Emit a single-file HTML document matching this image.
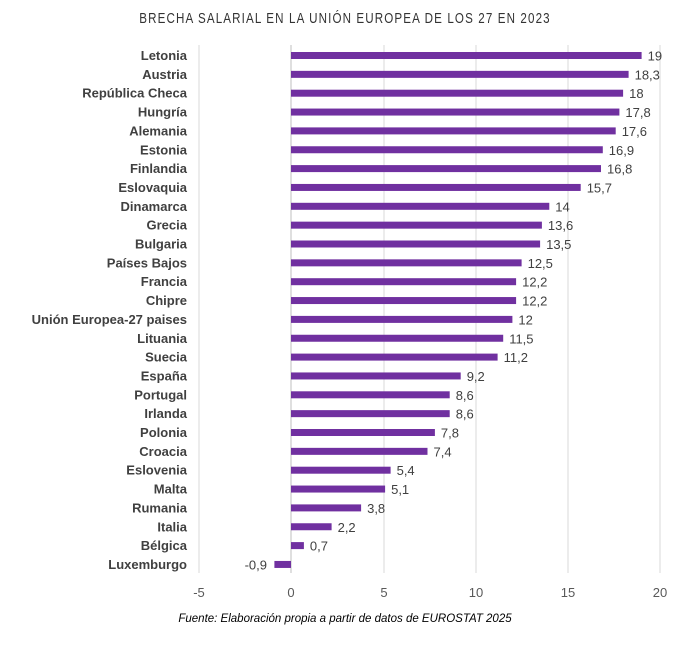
<!DOCTYPE html>
<html><head><meta charset="utf-8"><style>body{margin:0;background:#fff}</style></head><body>
<svg width="690" height="652" xmlns="http://www.w3.org/2000/svg" font-family="Liberation Sans, sans-serif">
<rect width="690" height="652" fill="#fff"/>
<text x="345" y="23" text-anchor="middle" font-size="14.5" fill="#333" letter-spacing="1.4" transform="translate(345,0) scale(0.8,1) translate(-345,0)">BRECHA SALARIAL EN LA UNIÓN EUROPEA DE LOS 27 EN 2023</text>
<g stroke="#d9d9d9" stroke-width="1">
<line x1="199" y1="45" x2="199" y2="573"/><line x1="384" y1="45" x2="384" y2="573"/><line x1="476" y1="45" x2="476" y2="573"/><line x1="568" y1="45" x2="568" y2="573"/><line x1="660" y1="45" x2="660" y2="573"/>
</g>
<line x1="291" y1="45" x2="291" y2="573" stroke="#bfbfbf"/>
<g font-size="13" fill="#404040">
<g transform="translate(0,55.5)"><text x="187" y="4.5" text-anchor="end" font-weight="bold">Letonia</text><rect x="291" y="-3.5" width="350.6" height="7" fill="#7030A0"/><text x="647.6" y="5">19</text></g>
<g transform="translate(0,74.35)"><text x="187" y="4.5" text-anchor="end" font-weight="bold">Austria</text><rect x="291" y="-3.5" width="337.6" height="7" fill="#7030A0"/><text x="634.6" y="5">18,3</text></g>
<g transform="translate(0,93.2)"><text x="187" y="4.5" text-anchor="end" font-weight="bold">República Checa</text><rect x="291" y="-3.5" width="332.1" height="7" fill="#7030A0"/><text x="629.1" y="5">18</text></g>
<g transform="translate(0,112.05)"><text x="187" y="4.5" text-anchor="end" font-weight="bold">Hungría</text><rect x="291" y="-3.5" width="328.4" height="7" fill="#7030A0"/><text x="625.4" y="5">17,8</text></g>
<g transform="translate(0,130.9)"><text x="187" y="4.5" text-anchor="end" font-weight="bold">Alemania</text><rect x="291" y="-3.5" width="324.7" height="7" fill="#7030A0"/><text x="621.7" y="5">17,6</text></g>
<g transform="translate(0,149.75)"><text x="187" y="4.5" text-anchor="end" font-weight="bold">Estonia</text><rect x="291" y="-3.5" width="311.8" height="7" fill="#7030A0"/><text x="608.8" y="5">16,9</text></g>
<g transform="translate(0,168.6)"><text x="187" y="4.5" text-anchor="end" font-weight="bold">Finlandia</text><rect x="291" y="-3.5" width="310.0" height="7" fill="#7030A0"/><text x="607" y="5">16,8</text></g>
<g transform="translate(0,187.45)"><text x="187" y="4.5" text-anchor="end" font-weight="bold">Eslovaquia</text><rect x="291" y="-3.5" width="289.7" height="7" fill="#7030A0"/><text x="586.7" y="5">15,7</text></g>
<g transform="translate(0,206.3)"><text x="187" y="4.5" text-anchor="end" font-weight="bold">Dinamarca</text><rect x="291" y="-3.5" width="258.3" height="7" fill="#7030A0"/><text x="555.3" y="5">14</text></g>
<g transform="translate(0,225.15)"><text x="187" y="4.5" text-anchor="end" font-weight="bold">Grecia</text><rect x="291" y="-3.5" width="250.9" height="7" fill="#7030A0"/><text x="547.9" y="5">13,6</text></g>
<g transform="translate(0,244)"><text x="187" y="4.5" text-anchor="end" font-weight="bold">Bulgaria</text><rect x="291" y="-3.5" width="249.1" height="7" fill="#7030A0"/><text x="546.1" y="5">13,5</text></g>
<g transform="translate(0,262.85)"><text x="187" y="4.5" text-anchor="end" font-weight="bold">Países Bajos</text><rect x="291" y="-3.5" width="230.6" height="7" fill="#7030A0"/><text x="527.6" y="5">12,5</text></g>
<g transform="translate(0,281.7)"><text x="187" y="4.5" text-anchor="end" font-weight="bold">Francia</text><rect x="291" y="-3.5" width="225.1" height="7" fill="#7030A0"/><text x="522.1" y="5">12,2</text></g>
<g transform="translate(0,300.55)"><text x="187" y="4.5" text-anchor="end" font-weight="bold">Chipre</text><rect x="291" y="-3.5" width="225.1" height="7" fill="#7030A0"/><text x="522.1" y="5">12,2</text></g>
<g transform="translate(0,319.4)"><text x="187" y="4.5" text-anchor="end" font-weight="bold">Unión Europea-27 paises</text><rect x="291" y="-3.5" width="221.4" height="7" fill="#7030A0"/><text x="518.4" y="5">12</text></g>
<g transform="translate(0,338.25)"><text x="187" y="4.5" text-anchor="end" font-weight="bold">Lituania</text><rect x="291" y="-3.5" width="212.2" height="7" fill="#7030A0"/><text x="509.2" y="5">11,5</text></g>
<g transform="translate(0,357.1)"><text x="187" y="4.5" text-anchor="end" font-weight="bold">Suecia</text><rect x="291" y="-3.5" width="206.6" height="7" fill="#7030A0"/><text x="503.6" y="5">11,2</text></g>
<g transform="translate(0,375.95)"><text x="187" y="4.5" text-anchor="end" font-weight="bold">España</text><rect x="291" y="-3.5" width="169.7" height="7" fill="#7030A0"/><text x="466.7" y="5">9,2</text></g>
<g transform="translate(0,394.8)"><text x="187" y="4.5" text-anchor="end" font-weight="bold">Portugal</text><rect x="291" y="-3.5" width="158.7" height="7" fill="#7030A0"/><text x="455.7" y="5">8,6</text></g>
<g transform="translate(0,413.65)"><text x="187" y="4.5" text-anchor="end" font-weight="bold">Irlanda</text><rect x="291" y="-3.5" width="158.7" height="7" fill="#7030A0"/><text x="455.7" y="5">8,6</text></g>
<g transform="translate(0,432.5)"><text x="187" y="4.5" text-anchor="end" font-weight="bold">Polonia</text><rect x="291" y="-3.5" width="143.9" height="7" fill="#7030A0"/><text x="440.9" y="5">7,8</text></g>
<g transform="translate(0,451.35)"><text x="187" y="4.5" text-anchor="end" font-weight="bold">Croacia</text><rect x="291" y="-3.5" width="136.5" height="7" fill="#7030A0"/><text x="433.5" y="5">7,4</text></g>
<g transform="translate(0,470.2)"><text x="187" y="4.5" text-anchor="end" font-weight="bold">Eslovenia</text><rect x="291" y="-3.5" width="99.6" height="7" fill="#7030A0"/><text x="396.6" y="5">5,4</text></g>
<g transform="translate(0,489.05)"><text x="187" y="4.5" text-anchor="end" font-weight="bold">Malta</text><rect x="291" y="-3.5" width="94.1" height="7" fill="#7030A0"/><text x="391.1" y="5">5,1</text></g>
<g transform="translate(0,507.9)"><text x="187" y="4.5" text-anchor="end" font-weight="bold">Rumania</text><rect x="291" y="-3.5" width="70.1" height="7" fill="#7030A0"/><text x="367.1" y="5">3,8</text></g>
<g transform="translate(0,526.75)"><text x="187" y="4.5" text-anchor="end" font-weight="bold">Italia</text><rect x="291" y="-3.5" width="40.6" height="7" fill="#7030A0"/><text x="337.6" y="5">2,2</text></g>
<g transform="translate(0,545.6)"><text x="187" y="4.5" text-anchor="end" font-weight="bold">Bélgica</text><rect x="291" y="-3.5" width="12.9" height="7" fill="#7030A0"/><text x="309.9" y="5">0,7</text></g>
<g transform="translate(0,564.45)"><text x="187" y="4.5" text-anchor="end" font-weight="bold">Luxemburgo</text><rect x="274.4" y="-3.5" width="16.6" height="7" fill="#7030A0"/><text x="267" y="5" text-anchor="end">-0,9</text></g>
</g>
<g font-size="13" fill="#595959" text-anchor="middle">
<text x="199" y="597">-5</text><text x="291" y="597">0</text><text x="384" y="597">5</text><text x="476" y="597">10</text><text x="568" y="597">15</text><text x="660" y="597">20</text>
</g>
<text x="345" y="622" text-anchor="middle" font-size="11.5" font-style="italic" fill="#000">Fuente: Elaboración propia a partir de datos de EUROSTAT 2025</text>
</svg>
</body></html>
